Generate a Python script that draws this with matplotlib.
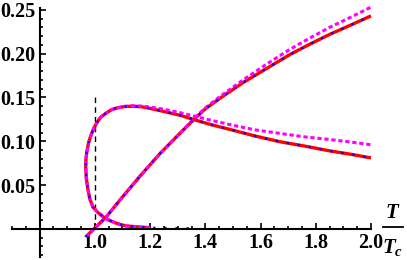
import matplotlib
matplotlib.use("Agg")
import matplotlib.pyplot as plt
from matplotlib.lines import Line2D
from matplotlib.ticker import MultipleLocator

plt.rcParams['font.family'] = ['Liberation Serif', 'DejaVu Serif']
plt.rcParams['mathtext.fontset'] = 'custom'
plt.rcParams['mathtext.it'] = 'Liberation Serif:italic:bold'
plt.rcParams['mathtext.rm'] = 'Liberation Serif:bold'
plt.rcParams['mathtext.bf'] = 'Liberation Serif:bold'

# rising branch
T_rise = [0.967, 0.99, 1.01, 1.042, 1.091, 1.163, 1.236, 1.308, 1.356, 1.40,
          1.453, 1.537, 1.622, 1.707, 1.78, 1.851, 1.93, 2.0]
y_rise = [-0.009, -0.002, 0.004, 0.014, 0.033, 0.060, 0.086, 0.109, 0.124, 0.137,
          0.149, 0.167, 0.183, 0.199, 0.211, 0.222, 0.233, 0.243]
y_rise_mag = [-0.009, -0.002, 0.004, 0.014, 0.033, 0.060, 0.086, 0.109, 0.125, 0.138,
              0.151, 0.170, 0.188, 0.205, 0.218, 0.230, 0.242, 0.253]

# loop branch (starts at the tail near the axis)
T_loop = [1.20, 1.17, 1.14, 1.116, 1.095, 1.08, 1.06, 1.045, 1.036, 1.01, 0.993, 0.982,
          0.975, 0.969, 0.967, 0.968, 0.971, 0.977, 0.985, 0.995, 1.007, 1.02, 1.04,
          1.06, 1.08, 1.105, 1.134, 1.17, 1.2, 1.25, 1.31, 1.356, 1.42, 1.489, 1.58,
          1.67, 1.76, 1.851, 1.93, 2.0]
y_loop = [0.0015, 0.002, 0.0027, 0.0034, 0.0048, 0.0063, 0.0088, 0.011, 0.0126, 0.019,
          0.025, 0.034, 0.045, 0.058, 0.071, 0.080, 0.088, 0.098, 0.106, 0.114, 0.121,
          0.127, 0.132, 0.136, 0.138, 0.1395, 0.140, 0.1393, 0.1375, 0.134, 0.1295,
          0.125, 0.119, 0.1135, 0.106, 0.0995, 0.0945, 0.089, 0.085, 0.081]
y_loop_mag = [0.0015, 0.002, 0.0027, 0.0034, 0.0048, 0.0063, 0.0088, 0.011, 0.0126, 0.019,
              0.025, 0.034, 0.045, 0.058, 0.071, 0.080, 0.088, 0.098, 0.106, 0.114, 0.121,
              0.127, 0.132, 0.136, 0.138, 0.1397, 0.1405, 0.1402, 0.139, 0.1365, 0.1325,
              0.129, 0.124, 0.119, 0.113, 0.109, 0.105, 0.102, 0.099, 0.096]

# blue curve runs a bit further along the axis
T_tail_blue = [1.34, 1.28, 1.20]
y_tail_blue = [0.0008, 0.001, 0.0015]

crit_T = [1.0, 1.0]
crit_y = [0.0, 0.153]

x_ticks = [1.0, 1.2, 1.4, 1.6, 1.8, 2.0]
x_ticklabels = ['1.0', '1.2', '1.4', '1.6', '1.8', '2.0']
y_ticks = [0.05, 0.10, 0.15, 0.20, 0.25]
y_ticklabels = ['0.05', '0.10', '0.15', '0.20', '0.25']

fig = plt.figure(figsize=(4.07, 2.60), dpi=100)
ax = fig.add_axes([12 / 407, 3 / 260, (371 - 12) / 407, (257 - 8) / 260])
ax.set_xlim(0.7, 2.0)
ax.set_ylim(-0.032, 0.252)

ax.plot(crit_T, crit_y, color='k', lw=1.0, linestyle=(0, (4, 3)))

for T, y in [(T_rise, y_rise), (T_loop, y_loop)]:
    ax.plot(T, y, color='#ff0000', lw=2.4, solid_capstyle='butt', clip_on=False)
for T, y in [(T_rise, y_rise_mag), (T_loop, y_loop_mag)]:
    ax.plot(T, y, color='#ff00ff', lw=2.2, linestyle=(0, (1.4, 0.9)), clip_on=False)
for T, y in [(T_rise, y_rise), (T_tail_blue + T_loop, y_tail_blue + y_loop)]:
    ax.plot(T, y, color='#0000ff', lw=1.6, linestyle=(0, (1, 4)), clip_on=False)

for s in ['top', 'right']:
    ax.spines[s].set_visible(False)
ax.spines['left'].set_position(('data', 0.8))
ax.spines['bottom'].set_position(('data', 0.0))
ax.spines['left'].set_linewidth(1.5)
ax.spines['bottom'].set_linewidth(1.5)

ax.set_xticks(x_ticks)
ax.set_xticklabels(x_ticklabels, fontsize=14.5, fontweight='bold')
ax.set_yticks(y_ticks)
ax.set_yticklabels(y_ticklabels, fontsize=14.5, fontweight='bold')
ax.xaxis.set_minor_locator(MultipleLocator(0.05))
ax.yaxis.set_minor_locator(MultipleLocator(0.01))
ax.tick_params(which='both', direction='in', width=1.2)
ax.tick_params(which='major', length=4.5)
ax.tick_params(which='minor', length=2.5)
ax.tick_params(axis='x', pad=3)
ax.tick_params(axis='y', pad=3)

# T / T_c label at the end of the axis
fig.text(392 / 407, 1 - 213 / 260, 'T', ha='center', va='center', fontsize=15,
         fontweight='bold', fontstyle='italic')
fig.add_artist(Line2D([383 / 407, 403 / 407], [1 - 227 / 260, 1 - 227 / 260],
                      color='k', lw=1.3))
fig.text(393 / 407, 1 - 247 / 260, r'$T_c$', ha='center', va='center', fontsize=15)

fig.savefig('out.png', dpi=100)
